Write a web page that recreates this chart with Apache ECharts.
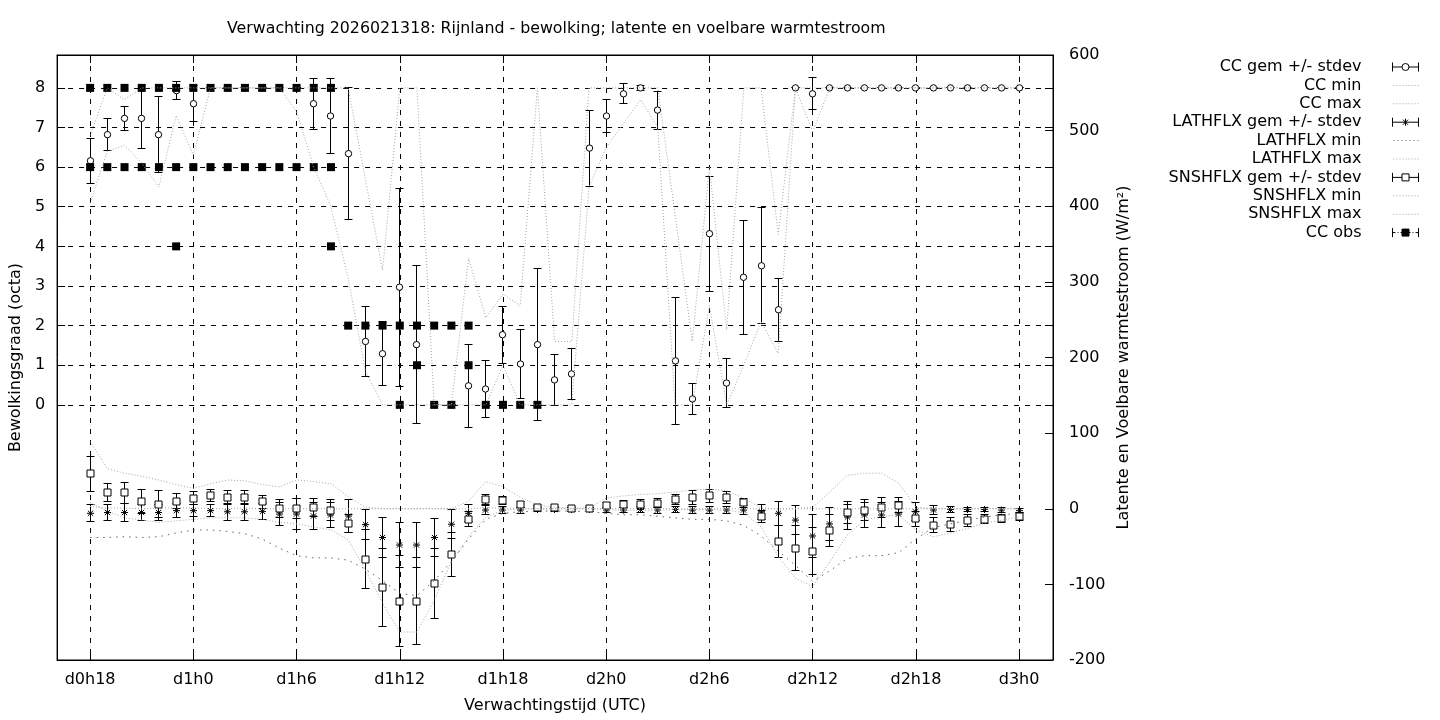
<!DOCTYPE html>
<html>
<head>
<meta charset="utf-8">
<title>Verwachting 2026021318: Rijnland</title>
<script src="https://cdn.jsdelivr.net/npm/echarts@6/dist/echarts.min.js"></script>
<style>
  html, body { margin: 0; padding: 0; background: #fff; }
  #chart { width: 1440px; height: 720px; }
</style>
</head>
<body>
<div id="chart"></div>
<script>
// uren sinds d0h0
const hours = [18, 19, 20, 21, 22, 23, 24, 25, 26, 27, 28, 29, 30,
  31, 32, 33, 34, 35, 36, 37, 38, 39, 40,
  41, 42, 43, 44, 45, 46, 47, 48, 49, 50,
  51, 52, 53, 54, 55, 56, 57, 58, 59, 60,
  61, 62, 63, 64, 65, 66, 67, 68, 69, 70, 71, 72];
const xTicks = [18, 24, 30, 36, 42, 48, 54, 60, 66, 72];
const ccTicks = [0, 1, 2, 3, 4, 5, 6, 7, 8];

// bewolking (octa)
const ccMean = [6.16, 6.82, 7.23, 7.23, 6.82, 7.93, 7.60, 8, 8, 8, 8, 8, 8,
  7.60, 7.29, 6.34, 1.60, 1.29, 2.97, 1.52, 0, 0, 0.48,
  0.40, 1.77, 1.03, 1.52, 0.63, 0.78, 6.48, 7.29, 7.85, 8.00,
  7.44, 1.11, 0.15, 4.32, 0.55, 3.22, 3.51, 2.40, 8, 7.85,
  8, 8, 8, 8, 8, 8, 8, 8, 8, 8, 8, 8];
const ccSd = [0.57, 0.41, 0.31, 0.75, 0.96, 0.23, 0.46, 0, 0, 0, 0, 0, 0,
  0.64, 0.95, 1.67, 0.88, 0.81, 2.50, 2.00, 0, 0, 1.05,
  0.72, 0.72, 0.88, 1.91, 0.65, 0.64, 0.96, 0.41, 0.25, 0.06,
  0.48, 1.60, 0.40, 1.45, 0.62, 1.44, 1.46, 0.80, 0, 0.40,
  0, 0, 0, 0, 0, 0, 0, 0, 0, 0, 0, 0];
const ccMin = [5.1, 6.4, 6.55, 6.1, 5.5, 7.3, 6.3, 8, 8, 8, 8, 8, 7.4,
  6.0, 5.0, 3.2, 0.85, 0, 0, 0, 0, 0, 0,
  0, 1.0, 0, 0, 0, 0, 5.5, 6.5, 7.1, 7.7,
  7.0, 0, 0, 2.5, 0, 1.0, 2.1, 1.3, 8, 6.9,
  8, 8, 8, 8, 8, 8, 8, 8, 8, 8, 8, 8];
const ccMax = [6.8, 8, 7.7, 8, 8, 8, 8, 8, 8, 8, 8, 8, 8,
  8, 8, 8, 5.7, 3.4, 8, 8, 0, 0, 3.7,
  2.2, 2.8, 2.5, 8, 1.6, 1.6, 8, 8, 8, 8,
  8, 4.8, 1.6, 6.0, 1.9, 8, 8, 4.3, 8, 8,
  8, 8, 8, 8, 8, 8, 8, 8, 8, 8, 8, 8];

// latente warmtestroom (W/m2)
const latMean = [-6, -5, -5, -5, -5, -2.5, -2.5, -2.5, -4, -4, -3.5, -7, -7,
  -9.6, -8.3, -9.6, -21, -38, -48, -48, -38, -20.5, -6,
  -1.7, -1.7, -1.7, -1, -1, -1, -1, -1.7, -1.7, -1,
  -1.7, -1, -1.7, -1.7, -1.7, -1.7, -4, -6, -15, -36,
  -20, -11, -8.3, -8.3, -7, -4, -1.7, -1, -1, -1, -1.7, -2.5];
const latSd = [11, 11, 12, 11, 11, 9, 8, 8, 11, 11, 11, 15, 20,
  18, 16, 22, 20, 27, 30, 30, 25, 19, 11,
  6, 5, 4, 3, 2, 2, 2, 3, 3, 4,
  4, 4, 5, 5, 5, 6, 10, 16, 19, 28,
  22, 16, 17, 17, 16, 12, 6, 4, 3, 3, 3, 3];
const latMin = [-38, -38, -37, -38, -37, -32, -28, -28, -30, -33, -40, -52, -62,
  -65, -65, -68, -80, -95, -112, -115, -95, -70, -40,
  -14, -6, -4, -3, -3, -3, -4, -6, -8, -8,
  -10, -12, -14, -14, -16, -22, -36, -56, -75, -96,
  -82, -66, -62, -62, -58, -40, -25, -20, -15, -11, -8, -6];
const latMax = [3, 1, 1, 0, 1, 1, 1, 0, 0, 1, 0, 0, 0,
  0, 0, 0, 0, 0, 0, 0, 0, 0, 0,
  1, 1, 0, 0, 0, 0, 0, 0, 0, 0,
  0, 0, 0, 0, 0, 0, 0, 0, 0, 0,
  0, 0, 0, 0, 0, 0, 0, 0, 0, 0, 0, 0];

// voelbare warmtestroom (W/m2)
const snsMean = [46, 21, 21, 10, 6, 10, 14, 17, 15, 15, 9, 0, 0,
  2, -2, -19, -67, -104, -122, -122, -99, -60, -14,
  12, 11, 6, 2, 2, 0.5, 0.5, 4.5, 6, 6,
  7, 12, 15, 17, 15, 8, -10, -43, -52, -56,
  -29, -5, -2, 1.4, 4.5, -13, -22, -21, -16, -14, -13, -10.5];
const snsSd = [23, 12, 14, 16, 18, 10, 9, 8, 9, 9, 9, 12, 13,
  12, 14, 12, 39, 52, 60, 58, 46, 29, 10,
  7, 5, 4, 2, 1, 1, 1, 4, 5, 6,
  6, 7, 9, 9, 8, 6, 8, 21, 30, 31,
  21, 15, 14, 13, 10, 10, 10, 9, 8, 6, 5, 5];
const snsMin = [8, -3, -12, -15, -18, -16, -14, -12, -12, -12, -14, -18, -20,
  -24, -28, -41, -81, -125, -163, -163, -121, -70, -37,
  -11, -2, 0, 0, 0, 0, 0, -1, -2, -2,
  -2, -1, -1, -1, -2, -5, -24, -63, -92, -103,
  -70, -35, -15, -10, -8, -28, -37, -32, -26, -19, -15, -11];
const snsMax = [89, 53, 47, 43, 38, 32, 27, 33, 38, 37, 32, 29, 38,
  36, 33, 16, 2, 0, 0, 0, 0, 0, 10,
  36, 29, 15, 5, 2, 1, 1, 14, 17, 19,
  20, 22, 25, 26, 24, 14, 1, 0, 0, 2,
  22, 44, 47, 47, 34, 2, 0, 0, 0, 0, 0, 0];

// waarnemingen bewolking
const obsTime = [18, 19, 20, 21, 22, 23, 24, 25, 26, 27, 28, 29, 30, 31, 32,
  18, 19, 20, 21, 22, 23, 24, 25, 26, 27, 28, 29, 30, 31, 32,
  23, 32,
  33, 34, 35, 36, 37, 38, 39, 40,
  37, 40,
  36, 38, 39, 41, 42, 43, 44];
const obsCc = [8, 8, 8, 8, 8, 8, 8, 8, 8, 8, 8, 8, 8, 8, 8,
  6, 6, 6, 6, 6, 6, 6, 6, 6, 6, 6, 6, 6, 6, 6,
  4, 4,
  2, 2, 2, 2, 2, 2, 2, 2,
  1, 1,
  0, 0, 0, 0, 0, 0, 0];

const FONT = 'DejaVu Sans';
const GREY = '#a6a6a6';
const DARKGREY = '#666666';

const crisp = v => Math.round(v - 0.5) + 0.5;
const ink = () => ({ stroke: '#000', lineWidth: 1 });

const circleMark = (x, y) => ({ type: 'circle', shape: { cx: x, cy: y, r: 3.2 }, style: { fill: '#fff', stroke: '#000', lineWidth: 1 } });
const squareMark = (x, y) => ({ type: 'rect', shape: { x: x - 3.5, y: crisp(y) - 3.5, width: 7, height: 7 }, style: { fill: '#fff', stroke: '#000', lineWidth: 1 } });
const starMark = (x, y) => ({
  type: 'group',
  children: [
    { type: 'line', shape: { x1: x - 3.5, y1: y, x2: x + 3.5, y2: y }, style: ink() },
    { type: 'line', shape: { x1: x, y1: y - 3.5, x2: x, y2: y + 3.5 }, style: ink() },
    { type: 'line', shape: { x1: x - 2.6, y1: y - 2.6, x2: x + 2.6, y2: y + 2.6 }, style: ink() },
    { type: 'line', shape: { x1: x - 2.6, y1: y + 2.6, x2: x + 2.6, y2: y - 2.6 }, style: ink() }
  ]
});

function errorBars(mark) {
  return function (params, api) {
    const h = api.value(0), m = api.value(1), s = api.value(2);
    const hi = api.coord([h, m + s]);
    const lo = api.coord([h, m - s]);
    const c = api.coord([h, m]);
    const x = crisp(c[0]);
    const yh = crisp(hi[1]), yl = crisp(lo[1]);
    return {
      type: 'group',
      children: [
        { type: 'line', shape: { x1: x, y1: yh, x2: x, y2: yl }, style: ink() },
        { type: 'line', shape: { x1: x - 4, y1: yh, x2: x + 4, y2: yh }, style: ink() },
        { type: 'line', shape: { x1: x - 4, y1: yl, x2: x + 4, y2: yl }, style: ink() },
        mark(x, c[1])
      ]
    };
  };
}

const triple = (mean, sd) => hours.map((h, i) => [h, mean[i], sd[i]]);
const pairs = vals => hours.map((h, i) => [h, vals[i]]);

function dotted(name, vals, axis, color, dash) {
  return {
    name: name, type: 'line', yAxisIndex: axis, data: pairs(vals),
    symbol: 'none', silent: true,
    itemStyle: { color: color },
    lineStyle: { color: color, width: 1, type: dash }
  };
}

function gem(name, mean, sd, axis, mark) {
  return {
    name: name, type: 'custom', yAxisIndex: axis, data: triple(mean, sd),
    encode: { x: 0, y: 1 }, renderItem: errorBars(mark), silent: true, clip: true
  };
}

// legend samples, 26 x 9
const frame = 'M0,0V9M26,0V9';
function dotsIcon(step) {
  let p = 'path://M0,0L0,9M26,0L26,9';
  for (let x = 1; x < 26; x += step) p += 'M' + x + ',4L' + (x + 1) + ',4L' + (x + 1) + ',5L' + x + ',5Z';
  return p;
}
const legendIcons = {
  circle: 'path://' + frame + 'M0,4.5H9.5M16.5,4.5H26M16.5,4.5A3.5,3.5,0,1,1,9.5,4.5A3.5,3.5,0,1,1,16.5,4.5Z',
  star: 'path://' + frame + 'M0,4.5H26M13,1V8M10.5,2L15.5,7M10.5,7L15.5,2',
  square: 'path://' + frame + 'M0,4.5H9.5M16.5,4.5H26M9.5,1H16.5V8H9.5Z',
  obs: 'path://' + frame + 'M0,4.5H3M5,4.5H6M8,4.5H9.5M16.5,4.5H18M20,4.5H21M23,4.5H26M9.5,1H16.5V8H9.5Z',
  dots: dotsIcon(3),
  sparse: dotsIcon(4)
};
const openStyle = { color: '#fff', borderColor: '#000', borderWidth: 1 };
const solidStyle = { color: '#000', borderColor: '#000', borderWidth: 1 };
const dotStyle = { color: GREY, borderWidth: 0 };
const sparseStyle = { color: DARKGREY, borderWidth: 0 };

const dayLabel = h => 'd' + Math.floor(h / 24) + 'h' + (h % 24);
const text16 = { fontFamily: FONT, fontSize: 16, color: '#000' };
const black = { color: '#000', width: 1 };

const option = {
  animation: false,
  backgroundColor: '#fff',
  textStyle: { fontFamily: FONT },
  title: {
    text: 'Verwachting 2026021318: Rijnland - bewolking; latente en voelbare warmtestroom',
    left: 227, top: 21, padding: 0,
    textStyle: { fontFamily: FONT, fontSize: 15.8, fontWeight: 'normal', color: '#000' }
  },
  legend: {
    orient: 'vertical', align: 'right', right: 21, top: 59, padding: 0,
    itemWidth: 26, itemHeight: 9, itemGap: 2.4, selectedMode: false,
    textStyle: { fontFamily: FONT, fontSize: 16, color: '#000', padding: [0, 26, 0, 0] },
    data: [
      { name: 'CC gem +/- stdev', icon: legendIcons.circle, itemStyle: openStyle },
      { name: 'CC min', icon: legendIcons.dots, itemStyle: dotStyle },
      { name: 'CC max', icon: legendIcons.dots, itemStyle: dotStyle },
      { name: 'LATHFLX gem +/- stdev', icon: legendIcons.star, itemStyle: solidStyle },
      { name: 'LATHFLX min', icon: legendIcons.sparse, itemStyle: sparseStyle },
      { name: 'LATHFLX max', icon: legendIcons.dots, itemStyle: dotStyle },
      { name: 'SNSHFLX gem +/- stdev', icon: legendIcons.square, itemStyle: openStyle },
      { name: 'SNSHFLX min', icon: legendIcons.dots, itemStyle: dotStyle },
      { name: 'SNSHFLX max', icon: legendIcons.dots, itemStyle: dotStyle },
      { name: 'CC obs', icon: legendIcons.obs, itemStyle: solidStyle }
    ]
  },
  grid: {
    left: 55, top: 55, width: 998, height: 605,
    show: true, borderColor: '#000', borderWidth: 1, backgroundColor: 'transparent'
  },
  xAxis: [
    {
      type: 'value', position: 'bottom', min: 16.08, max: 73.97,
      name: 'Verwachtingstijd (UTC)', nameLocation: 'middle', nameGap: 38,
      nameTextStyle: text16,
      axisLine: { onZero: false, lineStyle: black },
      axisTick: { inside: true, length: 8, customValues: xTicks, lineStyle: black },
      axisLabel: { customValues: xTicks, formatter: dayLabel, margin: 12, ...text16 },
      splitLine: { show: true, lineStyle: { color: '#000', width: 1, type: [5, 6] } }
    },
    {
      type: 'value', position: 'top', min: 16.08, max: 73.97,
      axisLine: { onZero: false, lineStyle: black },
      axisTick: { inside: true, length: 8, customValues: xTicks, lineStyle: black },
      axisLabel: { show: false },
      splitLine: { show: false }
    }
  ],
  yAxis: [
    {
      type: 'value', position: 'left', min: -6.44, max: 8.83,
      name: 'Bewolkingsgraad (octa)', nameLocation: 'middle', nameGap: 28, nameRotate: 90,
      nameTextStyle: text16,
      axisLine: { show: true, onZero: false, lineStyle: black },
      axisTick: { show: true, inside: true, length: 8, customValues: ccTicks, lineStyle: black },
      axisLabel: { customValues: ccTicks, margin: 12, ...text16 },
      splitLine: { show: true, lineStyle: { color: '#000', width: 1, type: [5, 6] } }
    },
    {
      type: 'value', position: 'right', min: -200, max: 600, interval: 100,
      name: 'Latente en Voelbare warmtestroom (W/m²)', nameLocation: 'middle', nameGap: 63, nameRotate: 90,
      nameTextStyle: text16,
      axisLine: { show: true, onZero: false, lineStyle: black },
      axisTick: { show: true, inside: true, length: 8, lineStyle: black },
      axisLabel: { margin: 16, ...text16 },
      splitLine: { show: false }
    },
    {
      type: 'value', position: 'right', min: -6.44, max: 8.83,
      axisLine: { show: false, onZero: false },
      axisTick: { show: true, inside: true, length: 8, customValues: ccTicks, lineStyle: black },
      axisLabel: { show: false },
      splitLine: { show: false }
    }
  ],
  series: [
    gem('CC gem +/- stdev', ccMean, ccSd, 0, circleMark),
    dotted('CC min', ccMin, 0, GREY, [1, 2]),
    dotted('CC max', ccMax, 0, GREY, [1, 2]),
    gem('LATHFLX gem +/- stdev', latMean, latSd, 1, starMark),
    dotted('LATHFLX min', latMin, 1, DARKGREY, [1.5, 5]),
    dotted('LATHFLX max', latMax, 1, GREY, [1, 2]),
    gem('SNSHFLX gem +/- stdev', snsMean, snsSd, 1, squareMark),
    dotted('SNSHFLX min', snsMin, 1, GREY, [1, 2]),
    dotted('SNSHFLX max', snsMax, 1, GREY, [1, 2]),
    {
      name: 'CC obs', type: 'scatter', yAxisIndex: 0, silent: true,
      data: obsTime.map((h, i) => [h, obsCc[i]]),
      symbol: 'rect', symbolSize: 8, itemStyle: { color: '#000', opacity: 1 }
    }
  ]
};

const chart = echarts.init(document.getElementById('chart'), null, { renderer: 'canvas' });
chart.setOption(option);
</script>
</body>
</html>
